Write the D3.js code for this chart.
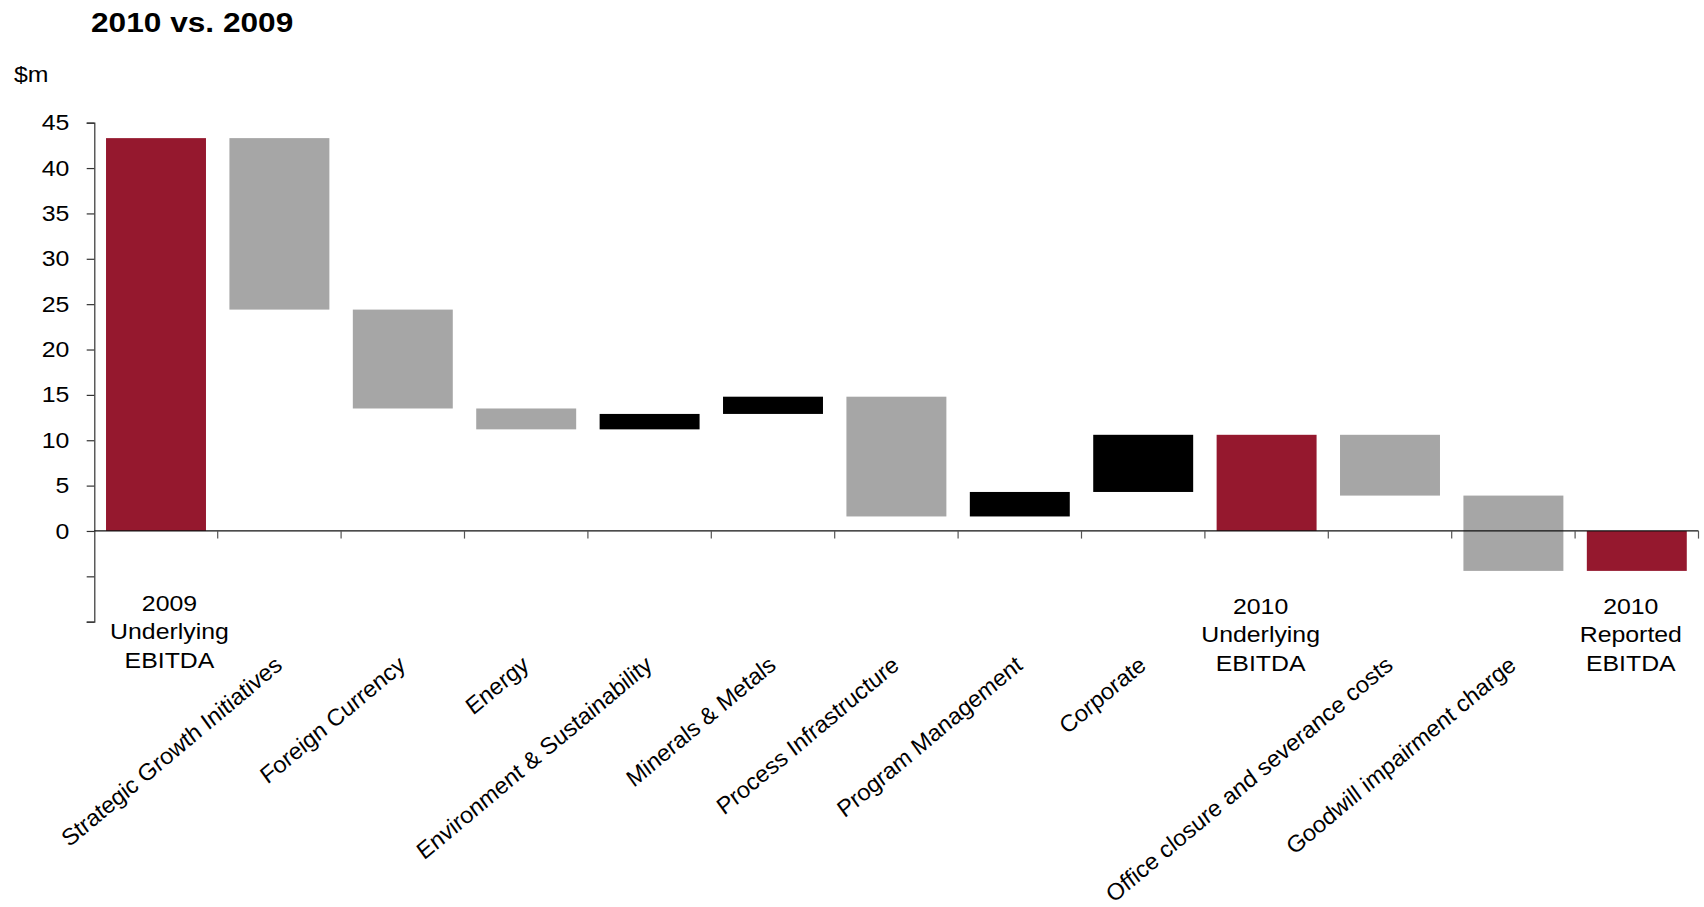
<!DOCTYPE html>
<html>
<head>
<meta charset="utf-8">
<script src="https://cdn.jsdelivr.net/npm/d3@7"></script>
<style>
  html, body { margin: 0; padding: 0; background: #fff; }
  svg { display: block; font-family: "Liberation Sans", Arial, sans-serif; }
</style>
</head>
<body>
<div id="chart"></div>
<script>
// EBITDA bridge, $m
const categories = [
  "2009\nUnderlying\nEBITDA",
  "Strategic Growth Initiatives",
  "Foreign Currency",
  "Energy",
  "Environment & Sustainability",
  "Minerals & Metals",
  "Process Infrastructure",
  "Program Management",
  "Corporate",
  "2010\nUnderlying\nEBITDA",
  "Office closure and severance costs",
  "Goodwill impairment charge",
  "2010\nReported\nEBITDA"
];
// "total" bars stand on zero; "step" bars move the running total
const kinds = ["total", "step", "step", "step", "step", "step", "step", "step", "step", "total", "step", "step", "total"];
const values = [43.3, -18.9, -10.9, -2.3, 1.7, 1.9, -13.2, 2.7, 6.3, 10.6, -6.7, -8.3, -4.4];
const yTicks = [-10, -5, 0, 5, 10, 15, 20, 25, 30, 35, 40, 45];
const title = "2010 vs. 2009";
const unit = "$m";

const W = 1704, H = 907;
const stretch = 1.13;           // wide-set lettering
const colors = { total: "#95182e", up: "#000000", down: "#a6a6a6" };

const svg = d3.select("#chart").append("svg")
  .attr("width", W).attr("height", H);
svg.append("rect").attr("width", W).attr("height", H).attr("fill", "#fff");

const x = d3.scaleBand()
  .domain(categories)
  .range([94.3, 1698.5])
  .paddingInner(0.19)
  .paddingOuter(0.095);

const y = d3.scaleLinear().domain([-10, 45]).range([621.7, 122.7]);

// running totals -> floating segments
let running = 0;
const bars = categories.map((c, i) => {
  const v = values[i];
  let y0, y1, fill;
  if (kinds[i] === "total") {
    y0 = 0; y1 = v; running = v; fill = colors.total;
  } else {
    y0 = running; y1 = running + v; running = y1;
    fill = v >= 0 ? colors.up : colors.down;
  }
  return { c, i, y0, y1, fill, kind: kinds[i] };
});

svg.append("g").selectAll("rect")
  .data(bars)
  .join("rect")
  .attr("x", d => x(d.c))
  .attr("width", x.bandwidth())
  .attr("y", d => y(Math.max(d.y0, d.y1)))
  .attr("height", d => Math.abs(y(d.y0) - y(d.y1)))
  .attr("fill", d => d.fill);

// y axis
const yAxis = svg.append("g")
  .attr("transform", `translate(${x.range()[0]},0)`)
  .call(d3.axisLeft(y).tickValues(yTicks).tickSize(7.6)
    .tickFormat(d => d < 0 ? "" : d3.format("d")(d)));
yAxis.select(".domain").attr("stroke", "#333").attr("stroke-width", 1.2);
yAxis.selectAll(".tick line").attr("stroke", "#333").attr("stroke-width", 1.2);
yAxis.selectAll(".tick text")
  .attr("x", 0)
  .attr("transform", `translate(-25,0) scale(${stretch},1)`)
  .attr("font-size", 22)
  .attr("font-family", "Liberation Sans, Arial, sans-serif")
  .attr("fill", "#000");

// zero line with category boundary ticks
const step = x.step();
const gap = step - x.bandwidth();
const xAxis = svg.append("g");
xAxis.append("line")
  .attr("x1", x.range()[0]).attr("x2", x.range()[1])
  .attr("y1", y(0)).attr("y2", y(0))
  .attr("stroke", "#111").attr("stroke-width", 1.3);
xAxis.selectAll("line.b")
  .data(categories)
  .join("line")
  .attr("class", "b")
  .attr("x1", d => x(d) + x.bandwidth() + gap / 2)
  .attr("x2", d => x(d) + x.bandwidth() + gap / 2)
  .attr("y1", y(0)).attr("y2", y(0) + 7.6)
  .attr("stroke", "#555").attr("stroke-width", 1.2);

// category labels; the opening total's caption sits a little right of its bar
const totalLabelNudge = i => i === 0 ? { dx: 13.5, y: 611 } : { dx: -6, y: 614 };
const labels = svg.append("g").attr("font-size", 22).attr("fill", "#000");
bars.forEach(d => {
  const cx = x(d.c) + x.bandwidth() / 2;
  if (d.kind === "total") {
    const n = totalLabelNudge(d.i);
    const t = labels.append("text")
      .attr("text-anchor", "middle")
      .attr("transform", `translate(${cx + n.dx},${n.y}) scale(${stretch},1)`);
    d.c.split("\n").forEach((line, k) => {
      t.append("tspan").attr("x", 0).attr("y", k * 28.5).text(line);
    });
  } else {
    labels.append("text")
      .attr("text-anchor", "end")
      .attr("font-style", "italic")
      .attr("transform", `translate(${cx + 5},667) scale(${stretch},1) rotate(-43.5)`)
      .text(d.c);
  }
});

// title and unit
svg.append("text")
  .attr("transform", `translate(91,31.5) scale(${stretch},1)`)
  .attr("font-size", 28).attr("font-weight", "bold")
  .text(title);
svg.append("text")
  .attr("transform", `translate(14,81.7) scale(${stretch},1)`)
  .attr("font-size", 22)
  .text(unit);
</script>
</body>
</html>
